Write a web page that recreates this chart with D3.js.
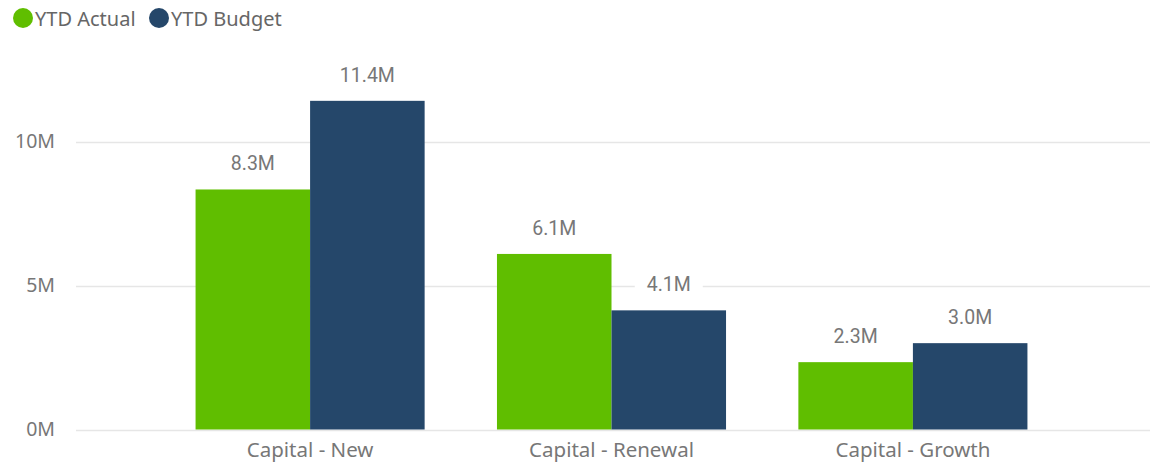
<!DOCTYPE html>
<html>
<head>
<meta charset="utf-8">
<script src="https://cdn.jsdelivr.net/npm/d3@7"></script>
<style>
  body { margin: 0; background: #fff; }
  svg { display: block; }
</style>
</head>
<body>
<svg id="chart" width="1150" height="463"></svg>
<script>
const categories = ["Capital - New", "Capital - Renewal", "Capital - Growth"];
const seriesNames = ["YTD Actual", "YTD Budget"];
const ytdActual = [8.34, 6.10, 2.34];   // millions
const ytdBudget = [11.42, 4.14, 3.00];  // millions
const yTicks = [0, 5, 10];
const colors = ["#60BE00", "#25476A"];

const width = 1150, height = 463;
const svg = d3.select("#chart");

const x = d3.scaleBand()
    .domain(categories)
    .range([75, 1148])
    .paddingInner(0.24)
    .paddingOuter(0.4);

const xInner = d3.scaleBand()
    .domain(seriesNames)
    .range([0, x.bandwidth()]);

const y = d3.scaleLinear()
    .domain([0, 10])
    .range([429.5, 141.7]);

// gridlines
svg.append("g")
  .selectAll("line")
  .data(yTicks)
  .enter().append("line")
    .attr("x1", 76)
    .attr("x2", width)
    .attr("y1", d => Math.round(y(d)) + 0.5)
    .attr("y2", d => Math.round(y(d)) + 0.5)
    .style("stroke", "#e6e6e6")
    .style("stroke-width", 1.5);

// y axis labels
const yAxis = d3.axisLeft(y).tickValues(yTicks).tickSize(0).tickPadding(0)
    .tickFormat(d => d + "M");
const gy = svg.append("g").attr("transform", "translate(55,0)").call(yAxis);
gy.select(".domain").remove();
gy.selectAll("text")
    .style("font-family", "'Segoe UI', 'Noto Sans', sans-serif")
    .style("font-size", "19.5px")
    .style("fill", "#777");

// x axis labels
const xAxis = d3.axisBottom(x).tickSize(0).tickPadding(0);
const gx = svg.append("g").attr("transform", "translate(0,442)").call(xAxis);
gx.select(".domain").remove();
gx.selectAll("text")
    .style("font-family", "'Segoe UI', 'Noto Sans', sans-serif")
    .style("font-size", "20.5px")
    .style("fill", "#777");

// bars
const rows = categories.map((c, i) => ({
  cat: c,
  vals: [ytdActual[i], ytdBudget[i]]
}));

const groups = svg.append("g")
  .selectAll("g")
  .data(rows)
  .enter().append("g")
    .attr("transform", d => "translate(" + x(d.cat) + ",0)");

groups.selectAll("rect")
  .data(d => d.vals.map((v, j) => ({ name: seriesNames[j], v: v, j: j })))
  .enter().append("rect")
    .attr("x", d => xInner(d.name))
    .attr("width", xInner.bandwidth())
    .attr("y", d => y(d.v))
    .attr("height", d => y(0) - y(d.v))
    .style("fill", d => colors[d.j]);

// data labels with white backing
const labels = groups.selectAll("g.lbl")
  .data(d => d.vals.map((v, j) => ({ name: seriesNames[j], v: v, j: j })))
  .enter().append("g")
    .attr("class", "lbl")
    .attr("transform", d => "translate(" + (xInner(d.name) + xInner.bandwidth() / 2) + "," + (y(d.v) - 19) + ")");

labels.append("rect")
    .attr("x", -34)
    .attr("y", -19)
    .attr("width", 68)
    .attr("height", 24)
    .style("fill", "#fff");

labels.append("text")
    .attr("text-anchor", "middle")
    .style("font-family", "Roboto, 'DejaVu Sans', sans-serif")
    .style("font-size", "19.5px")
    .style("fill", "#777")
    .text(d => d3.format(".1f")(d.v) + "M");

// legend
const legend = svg.append("g");
const legX = [23, 159];
seriesNames.forEach((name, i) => {
  legend.append("circle")
    .attr("cx", legX[i])
    .attr("cy", 18)
    .attr("r", 10)
    .style("fill", colors[i]);
  legend.append("text")
    .attr("x", legX[i] + 12)
    .attr("y", 25.5)
    .style("font-family", "'Segoe UI', 'Noto Sans', sans-serif")
    .style("font-size", "20px")
    .style("fill", "#666")
    .text(name);
});
</script>
</body>
</html>
